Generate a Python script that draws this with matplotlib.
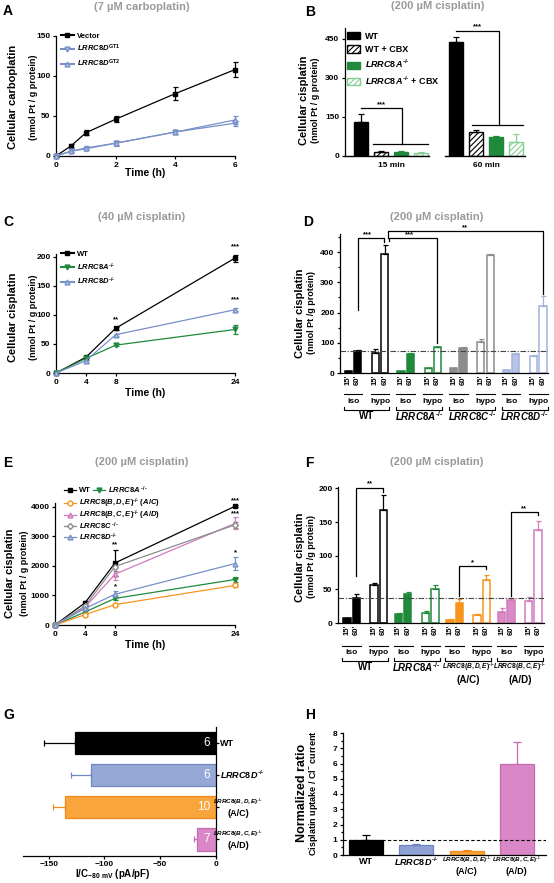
import matplotlib
matplotlib.use("Agg")
import matplotlib.pyplot as plt
import numpy as np
from matplotlib.lines import Line2D
from matplotlib.patches import Patch
from matplotlib.transforms import blended_transform_factory

# ---------------- data ----------------
# A: 7 uM carboplatin
time_a = [0, 0.5, 1, 2, 4, 6]
vector_a = [0, 12.5, 29, 46, 78, 108]
vector_a_err = [1, 2.5, 3, 3.5, 8, 9]
gt1_a = [0, 6, 9, 16, 30, 41]
gt1_a_err = [0.5, 1.5, 2, 3, 2.5, 3]
gt2_a = [0, 6, 10, 16, 30, 45]
gt2_a_err = [0.5, 1.5, 2, 2.5, 2.5, 4.5]

# B: 200 uM cisplatin, 15 / 60 min
b_times = ["15 min", "60 min"]
b_wt = [130, 437]
b_wt_err = [33, 22]
b_wt_cbx = [15, 92]
b_wt_cbx_err = [3, 7]
b_8a = [16, 73]
b_8a_err = [2, 2]
b_8a_cbx = [12, 55]
b_8a_cbx_err = [2, 30]

# C: 40 uM cisplatin
time_c = [0, 4, 8, 24]
wt_c = [0, 27, 77, 198]
wt_c_err = [0, 2, 3, 6]
a8_c = [0, 25, 48, 75]
a8_c_err = [0, 2, 2, 7]
d8_c = [0, 21, 66, 109]
d8_c_err = [0, 2, 2, 3]

# D: iso15, iso60, hypo15, hypo60
d_wt = [5, 72, 65, 393]
d_wt_err = [1, 3, 15, 30]
d_8a = [5, 64, 16, 85]
d_8a_err = [1, 2, 2, 2]
d_8c = [16, 84, 102, 392]
d_8c_err = [2, 2, 11, 3]
d_8d = [9, 64, 57, 222]
d_8d_err = [1, 2, 1, 32]
d_ref = 72

# E: 200 uM cisplatin
time_e = [0, 4, 8, 24]
wt_e = [0, 750, 2100, 4020]
wt_e_err = [0, 60, 450, 40]
a8_e = [0, 440, 900, 1540]
a8_e_err = [0, 40, 60, 80]
ac_e = [0, 350, 690, 1340]
ac_e_err = [0, 30, 40, 60]
ad_e = [0, 600, 1720, 3440]
ad_e_err = [0, 50, 200, 200]
c8_e = [0, 640, 1980, 3390]
c8_e_err = [0, 50, 150, 100]
d8_e = [0, 560, 1040, 2080]
d8_e_err = [0, 40, 100, 230]

# F: iso15, iso60, hypo15, hypo60
f_wt = [7, 37.5, 56, 168]
f_wt_err = [0.5, 6, 4, 22]
f_8a = [14, 43, 14.5, 50]
f_8a_err = [1, 3, 3, 6]
f_ac = [5, 29, 12, 64]
f_ac_err = [0.5, 6, 2, 7]
f_ad = [16, 34, 33, 138]
f_ad_err = [6, 3.5, 6, 14]
f_ref = 37.5

# G: current density at -80 mV
g_current = [-126, -112, -135, -17]
g_current_err = [28, 18, 11, 3]
g_n = ["6", "6", "10", "7"]

# H: normalized ratio uptake / Cl- current
h_ratio = [1.0, 0.65, 0.25, 6.0]
h_ratio_err = [0.3, 0.1, 0.07, 1.4]

# ---------------- style ----------------
W, H = 554, 883
plt.rcParams.update({
    "font.family": ["Liberation Sans", "DejaVu Sans"],
    "font.weight": "bold",
    "axes.labelweight": "bold",
    "axes.linewidth": 0.9,
    "hatch.linewidth": 0.8,
    "mathtext.fontset": "custom",
    "mathtext.rm": "Liberation Sans:bold",
    "mathtext.it": "Liberation Sans:bold:italic",
    "mathtext.bf": "Liberation Sans:bold",
})

BLUE = "#7890c8"
LBLUE_FILL = "#b7c4e6"
GREEN = "#1f8a3b"
LGREEN = "#86cf92"
GRAY = "#8c8c8c"
ORANGE = "#f7941d"
PINK = "#d27bbd"
TGRAY = "#9a9a9a"

fig = plt.figure(figsize=(W / 100, H / 100), dpi=100)


def add_ax(l, t, r, b):
    return fig.add_axes([l / W, 1 - b / H, (r - l) / W, (b - t) / H])


def prism(ax):
    ax.spines[["top", "right"]].set_visible(False)
    ax.tick_params(direction="out", length=2.5, width=0.9, pad=1.5, labelsize=6)


def fy(y):
    return 1 - y / H


def ftext(x, y, s, **kw):
    fig.text(x / W, fy(y), s, **kw)


def ylabels(x1, x2, y, big, small, bs=8, ss=6.5):
    ftext(x1, y, big, fontsize=bs, rotation=90, ha="center", va="center")
    ftext(x2, y, small, fontsize=ss, rotation=90, ha="center", va="center")


def bracket(ax, x1, y1, x2, y2, ytop, label, tx=None):
    ax.plot([x1, x1, x2, x2], [y1, ytop, ytop, y2], color="k", lw=0.9,
            clip_on=False)
    ax.text((x1 + x2) / 2 if tx is None else tx, ytop, label, ha="center",
            va="bottom", fontsize=5.5, clip_on=False)


def series(ax, x, y, err, color, marker, mfc, ms=3.5):
    ax.errorbar(x, y, yerr=err, color=color, marker=marker, mfc=mfc,
                mec=color, ms=ms, lw=0.9, elinewidth=0.9, capsize=1.8,
                capthick=0.9, clip_on=False, zorder=3)


KO = r"\text{-/-}"
mt = lambda name, sup=KO: r"$\mathit{" + name + r"}^{" + sup + r"}$"
small = lambda s: r"$\mathit{" + s + r"}^{" + KO + r"}$"

# panel letters and gray titles
for letter, x, y in [("A", 3, 11), ("B", 305, 12), ("C", 3, 222), ("D", 303, 222),
                     ("E", 3, 463), ("F", 305, 463), ("G", 3, 715), ("H", 305, 715)]:
    ftext(x, y, letter, fontsize=10, ha="left", va="center")
for s, x, y in [("(7 \u00b5M carboplatin)", 142, 7), ("(200 \u00b5M cisplatin)", 438, 6),
                ("(40 \u00b5M cisplatin)", 142, 217), ("(200 \u00b5M cisplatin)", 437, 217),
                ("(200 \u00b5M cisplatin)", 142, 462), ("(200 \u00b5M cisplatin)", 437, 462)]:
    ftext(x, y, s, fontsize=8, color=TGRAY, ha="center", va="center")

# ---------------- A ----------------
ax = add_ax(56, 36, 235, 156)
prism(ax)
series(ax, time_a, vector_a, vector_a_err, "k", "s", "k")
series(ax, time_a, gt1_a, gt1_a_err, BLUE, "v", LBLUE_FILL)
series(ax, time_a, gt2_a, gt2_a_err, BLUE, "^", LBLUE_FILL)
ax.set_xlim(0, 6)
ax.set_ylim(0, 150)
ax.set_xticks([0, 2, 4, 6])
ax.set_yticks([0, 50, 100, 150])
handles = [Line2D([], [], color="k", marker="s", ms=3.5),
           Line2D([], [], color=BLUE, marker="v", mfc=LBLUE_FILL, ms=3.5),
           Line2D([], [], color=BLUE, marker="^", mfc=LBLUE_FILL, ms=3.5)]
ax.legend(handles, ["Vector", mt("LRRC8D", r"\text{GT1}"), mt("LRRC8D", r"\text{GT2}")],
          loc="upper left", bbox_to_anchor=(0.03, 1.03), frameon=False,
          fontsize=5.5, handlelength=1.6, handletextpad=0.5, labelspacing=0.45,
          borderaxespad=0, borderpad=0)
ftext(145, 173, "Time (h)", fontsize=7.5, ha="center", va="center")
ylabels(13, 33, 97, "Cellular carboplatin", "(nmol Pt / g protein)")

# ---------------- B ----------------
ax = add_ax(345, 28, 525, 156)
prism(ax)
ax.spines["bottom"].set_visible(False)
gx = np.array([0, 4.75])
specs = [(b_wt, b_wt_err, "k", "k", None),
         (b_wt_cbx, b_wt_cbx_err, "white", "k", "//////"),
         (b_8a, b_8a_err, GREEN, GREEN, None),
         (b_8a_cbx, b_8a_cbx_err, "white", LGREEN, "//////")]
for i, (vals, errs, face, edge, hatch) in enumerate(specs):
    ax.bar(gx + i, vals, width=0.72, color=face, edgecolor=edge, hatch=hatch,
           linewidth=1.0)
    ax.errorbar(gx + i, vals, yerr=[[0, 0], errs], fmt="none", ecolor=edge,
                elinewidth=0.9, capsize=2, capthick=0.9)
ax.set_xlim(-0.8, 8.2)
ax.set_ylim(0, 492)
ax.set_yticks([0, 150, 300, 450])
ax.set_xticks(gx + 1.5, b_times)
ax.tick_params(axis="x", length=0, pad=4, labelsize=6)
for a, b in [(-0.8, 3.4), (4.2, 8.2)]:
    ax.plot([a, b], [0, 0], color="k", lw=1.0, clip_on=False)
ax.plot([0, 2.05, 2.05], [185, 185, 48], color="k", lw=0.9, clip_on=False)
ax.plot([0.6, 3.35], [48, 48], color="k", lw=0.9, clip_on=False)
ax.text(1.0, 185, "***", ha="center", va="bottom", fontsize=5.5)
ax.plot([4.75, 6.9, 6.9], [482, 482, 120], color="k", lw=0.9, clip_on=False)
ax.plot([5.55, 8.1], [120, 120], color="k", lw=0.9, clip_on=False)
ax.text(5.8, 482, "***", ha="center", va="bottom", fontsize=5.5, clip_on=False)
handles = [Patch(facecolor="k", edgecolor="k"),
           Patch(facecolor="white", edgecolor="k", hatch="//////"),
           Patch(facecolor=GREEN, edgecolor=GREEN),
           Patch(facecolor="white", edgecolor=LGREEN, hatch="//////")]
ax.legend(handles, ["WT", "WT + CBX", mt("LRRC8A"), mt("LRRC8A") + " + CBX"],
          loc="upper left", bbox_to_anchor=(0.01, 0.97), frameon=False,
          fontsize=6.5, handlelength=1.5, handleheight=0.9, handletextpad=0.5,
          labelspacing=0.45, borderaxespad=0, borderpad=0)
ylabels(304, 315, 100, "Cellular cisplatin", "(nmol Pt / g protein)")

# ---------------- C ----------------
ax = add_ax(56, 254, 235, 373)
prism(ax)
series(ax, time_c, wt_c, wt_c_err, "k", "s", "k")
series(ax, time_c, a8_c, a8_c_err, GREEN, "v", GREEN)
series(ax, time_c, d8_c, d8_c_err, BLUE, "^", LBLUE_FILL)
ax.set_xlim(0, 24)
ax.set_ylim(0, 205)
ax.set_xticks([0, 4, 8, 24])
ax.set_yticks([0, 50, 100, 150, 200])
for x, y, s in [(8, 86, "**"), (24, 212, "***"), (24, 121, "***")]:
    ax.text(x, y, s, ha="center", va="bottom", fontsize=5.5, clip_on=False)
handles = [Line2D([], [], color="k", marker="s", ms=3.5),
           Line2D([], [], color=GREEN, marker="v", ms=3.5),
           Line2D([], [], color=BLUE, marker="^", mfc=LBLUE_FILL, ms=3.5)]
ax.legend(handles, ["WT", mt("LRRC8A"), mt("LRRC8D")], loc="upper left",
          bbox_to_anchor=(0.03, 1.03), frameon=False, fontsize=5.5,
          handlelength=1.6, handletextpad=0.5, labelspacing=0.45,
          borderaxespad=0, borderpad=0)
ftext(145, 393, "Time (h)", fontsize=7.5, ha="center", va="center")
ylabels(13, 33, 317, "Cellular cisplatin", "(nmol Pt / g protein)")

# ---------------- D / F helpers ----------------
OFFS = np.array([0, 1, 2.9, 3.9])


def uptake_bars(ax, groups, spacing):
    for g, (vals, errs, face, edge) in enumerate(groups):
        pos = g * spacing + OFFS
        ax.bar(pos, vals, width=0.78, color=[face, face, "white", "white"],
               edgecolor=edge, linewidth=1.1)
        ax.errorbar(pos, vals, yerr=[np.zeros(4), errs], fmt="none",
                    ecolor=edge, elinewidth=0.9, capsize=1.8, capthick=0.9)


def group_labels(ax, spacing, ngroups, y0, yline, yiso, ybr):
    tr = blended_transform_factory(ax.transData, fig.transFigure)
    for g in range(ngroups):
        pos = g * spacing + OFFS
        for p, lab in zip(pos, ["15'", "60'", "15'", "60'"]):
            ax.text(p, fy(y0), lab, transform=tr, rotation=90, ha="center",
                    va="top", fontsize=5.5)
        for a, b, lab in [(pos[0], pos[1], "iso"), (pos[2], pos[3], "hypo")]:
            ax.plot([a - 0.5, b + 0.5], [fy(yline)] * 2, transform=tr,
                    color="k", lw=0.8, clip_on=False)
            ax.text((a + b) / 2, fy(yiso), lab, transform=tr, ha="center",
                    va="center", fontsize=6)
        xl, xr = pos[0] - 0.5, pos[3] + 0.5
        ax.plot([xl, xl, xr, xr], [fy(ybr - 3), fy(ybr), fy(ybr), fy(ybr - 3)],
                transform=tr, color="k", lw=0.8, clip_on=False)
    return tr


# ---------------- D ----------------
SD = 5.65
ax = add_ax(340, 234, 548, 373)
prism(ax)
uptake_bars(ax, [(d_wt, d_wt_err, "k", "k"), (d_8a, d_8a_err, GREEN, GREEN),
                 (d_8c, d_8c_err, GRAY, GRAY),
                 (d_8d, d_8d_err, LBLUE_FILL, "#a3b3dc")], SD)
ax.axhline(d_ref, color="#444444", lw=0.8, ls=(0, (5, 1.5, 1, 1.5)))
ax.set_xlim(-0.9, 21.4)
ax.set_ylim(0, 460)
ax.set_yticks([0, 100, 200, 300, 400])
ax.set_yticks([50, 150, 250, 350, 450], minor=True)
ax.tick_params(axis="y", which="minor", length=1.5, width=0.9)
ax.set_xticks([])
bracket(ax, 1, 210, 3.85, 432, 446, "***", tx=2.0)
bracket(ax, 4.35, 438, 9.55, 100, 446, "***", tx=6.5)
bracket(ax, 4.2, 446, 3 * SD + 3.9, 262, 469, "**")
tr = group_labels(ax, SD, 4, 375, 394, 402, 410)
for g, s in enumerate(["WT", mt("LRRC8A"), mt("LRRC8C"), mt("LRRC8D")]):
    ax.text(g * SD + 1.95, fy(416), s, transform=tr, ha="center", va="center",
            fontsize=7)
ylabels(300, 312, 313, "Cellular cisplatin", "(nmol Pt /g protein)")

# ---------------- E ----------------
ax = add_ax(55, 503, 235, 625)
prism(ax)
series(ax, time_e, wt_e, wt_e_err, "k", "s", "k")
series(ax, time_e, a8_e, a8_e_err, GREEN, "v", GREEN)
series(ax, time_e, ac_e, ac_e_err, ORANGE, "o", "white")
series(ax, time_e, ad_e, ad_e_err, PINK, "^", "#e6b3dc")
series(ax, time_e, c8_e, c8_e_err, GRAY, "D", "white", ms=3)
series(ax, time_e, d8_e, d8_e_err, BLUE, "^", LBLUE_FILL)
ax.set_xlim(0, 24)
ax.set_ylim(0, 4130)
ax.set_xticks([0, 4, 8, 24])
ax.set_yticks([0, 1000, 2000, 3000, 4000])
for x, y, s in [(8, 2600, "**"), (8, 1160, "*"), (24, 4100, "***"),
                (24, 3640, "***"), (24, 2320, "*")]:
    ax.text(x, y, s, ha="center", va="bottom", fontsize=5.5, clip_on=False)
legend_e = [(70, 490, "k", "s", "k", "WT"),
            (99, 490, GREEN, "v", GREEN, mt("LRRC8A", r"\text{ -/-}")),
            (70, 503, ORANGE, "o", "white", mt("LRRC8(B,D,E)") + r" $\mathit{(A/C)}$"),
            (70, 515, PINK, "^", "#e6b3dc", mt("LRRC8(B,C,E)") + r" $\mathit{(A/D)}$"),
            (70, 526, GRAY, "D", "white", mt("LRRC8C", r"\text{ -/-}")),
            (70, 537, BLUE, "^", LBLUE_FILL, mt("LRRC8D"))]
for x, y, col, mk, mfc, lab in legend_e:
    fig.add_artist(Line2D([(x - 6) / W, (x + 6) / W], [fy(y), fy(y)],
                          transform=fig.transFigure, color=col, lw=0.9))
    fig.add_artist(Line2D([x / W], [fy(y)], transform=fig.transFigure,
                          color=col, marker=mk, mfc=mfc, mec=col, lw=0,
                          ms=3 if mk == "D" else 3.5))
    ftext(x + 9, y, lab, fontsize=5.5, ha="left", va="center")
ftext(145, 645, "Time (h)", fontsize=7.5, ha="center", va="center")
ylabels(10, 25, 573, "Cellular cisplatin", "(nmol Pt / g protein)")

# ---------------- F ----------------
SF = 5.52
ax = add_ax(338, 487, 544, 623)
prism(ax)
uptake_bars(ax, [(f_wt, f_wt_err, "k", "k"), (f_8a, f_8a_err, GREEN, GREEN),
                 (f_ac, f_ac_err, ORANGE, ORANGE),
                 (f_ad, f_ad_err, "#d98bc8", PINK)], SF)
ax.axhline(f_ref, color="#444444", lw=0.8, ls=(0, (5, 1.5, 1, 1.5)))
ax.set_xlim(-0.96, 21.1)
ax.set_ylim(0, 202)
ax.set_yticks([0, 50, 100, 150, 200])
ax.set_xticks([])
bracket(ax, 1, 70, 3.9, 195, 201, "**")
bracket(ax, 2 * SF + 1, 40, 2 * SF + 3.9, 80, 84, "*")
bracket(ax, 3 * SF + 1, 40, 3 * SF + 3.9, 160, 165, "**")
tr = group_labels(ax, SF, 4, 625, 646, 653, 661)
for g, lines in enumerate([[("WT", 7)], [(mt("LRRC8A"), 7)],
                           [(small("LRRC8(B,D,E)"), 4.8), ("(A/C)", 7)],
                           [(small("LRRC8(B,C,E)"), 4.8), ("(A/D)", 7)]]):
    for k, (s, size) in enumerate(lines):
        ax.text(g * SF + 1.95, fy(667 + 13 * k), s, transform=tr, ha="center",
                va="center", fontsize=size)
ylabels(300, 312, 557, "Cellular cisplatin", "(nmol Pt /g protein)")

# ---------------- G ----------------
ax = add_ax(23, 727, 216, 856)
ax.spines[["top", "left"]].set_visible(False)
g_faces = ["k", "#95a8d6", "#f9a53b", "#d987c7"]
g_edges = ["k", "#6f88c4", "#f08a1c", "#c56bb0"]
gy = np.arange(4)
ax.barh(gy, g_current, height=0.7, color=g_faces, edgecolor=g_edges, lw=0.9)
for i in range(4):
    ax.errorbar(g_current[i], gy[i], xerr=[[g_current_err[i]], [0]], fmt="none",
                ecolor=g_edges[i], elinewidth=0.9, capsize=2.5, capthick=0.9)
    ax.text(-5, gy[i], g_n[i], color="white", fontsize=8.5, fontweight="normal",
            ha="right", va="center")
ax.set_xlim(-173, 0)
ax.set_ylim(3.52, -0.5)
ax.yaxis.tick_right()
ax.set_yticks(gy)
ax.tick_params(axis="y", length=2, width=0.9, labelright=False)
ax.tick_params(axis="x", direction="out", length=2.5, width=0.9, pad=1,
               labelsize=6)
ax.set_xticks([-150, -100, -50, 0])
tr = blended_transform_factory(fig.transFigure, ax.transData)
ax.text(220 / W, 0, "WT", transform=tr, ha="left", va="center", fontsize=6.5)
ax.text(220 / W, 1, mt("LRRC8D"), transform=tr, ha="left", va="center",
        fontsize=6.5)
for i, (a, b) in zip([2, 3], [("LRRC8(B,D,E)", "(A/C)"), ("LRRC8(B,C,E)", "(A/D)")]):
    ax.text(238 / W, i - 0.17, small(a), transform=tr, ha="center",
            va="center", fontsize=4.5)
    ax.text(238 / W, i + 0.2, b, transform=tr, ha="center", va="center",
            fontsize=6.5)
ftext(113, 874, r"I/C$_{\mathrm{-80\ mV}}$ (pA/pF)", fontsize=7, ha="center",
      va="center")

# ---------------- H ----------------
ax = add_ax(343, 733, 546, 855)
prism(ax)
h_faces = ["k", "#8ea2d4", "#f9a53b", "#d987c7"]
h_edges = ["k", "#6c85c0", "#f08a1c", "#c56bb0"]
hx = np.arange(4)
ax.bar(hx, h_ratio, width=0.68, color=h_faces, edgecolor=h_edges, lw=0.9)
for i in range(4):
    ax.errorbar(hx[i], h_ratio[i], yerr=[[0], [h_ratio_err[i]]], fmt="none",
                ecolor=h_edges[i], elinewidth=0.9, capsize=3, capthick=0.9)
ax.axhline(1, color="k", lw=0.8, ls=(0, (3, 2)))
ax.set_xlim(-0.46, 3.58)
ax.set_ylim(0, 8)
ax.set_yticks(range(9))
ax.set_yticks(np.arange(0.5, 8, 1), minor=True)
ax.tick_params(axis="y", which="minor", length=1.5, width=0.9)
ax.set_xticks([])
tr = blended_transform_factory(ax.transData, fig.transFigure)
ax.text(0, fy(862), "WT", transform=tr, ha="center", va="center", fontsize=6.5)
ax.text(1, fy(862), mt("LRRC8D"), transform=tr, ha="center", va="center",
        fontsize=6.5)
for i, (a, b) in zip([2, 3], [("LRRC8(B,D,E)", "(A/C)"), ("LRRC8(B,C,E)", "(A/D)")]):
    ax.text(i, fy(860), small(a), transform=tr, ha="center", va="center",
            fontsize=4.5)
    ax.text(i, fy(871), b, transform=tr, ha="center", va="center", fontsize=6.5)
ylabels(302, 314, 793, "Normalized ratio", r"Cisplatin uptake / Cl$^{-}$ current",
        bs=9, ss=6.5)

fig.savefig("out.png", dpi=100)
